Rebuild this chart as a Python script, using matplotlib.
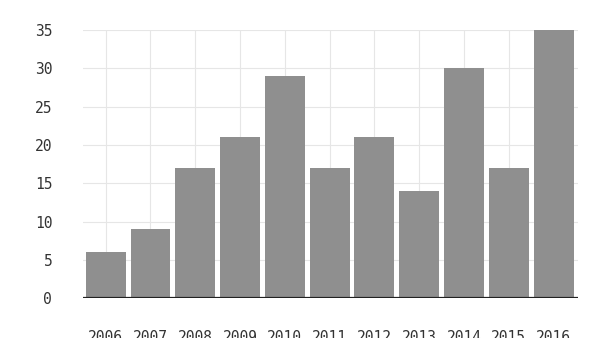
import matplotlib
matplotlib.use("Agg")
import matplotlib.pyplot as plt

years = ["2006", "2007", "2008", "2009", "2010", "2011", "2012", "2013", "2014", "2015", "2016"]
values = [6, 9, 17, 21, 29, 17, 21, 14, 30, 17, 35]
yticks = [0, 5, 10, 15, 20, 25, 30, 35]

fig = plt.figure(figsize=(6, 3.38), dpi=100)
ax = fig.add_axes([0.138, 0.118, 0.825, 0.793])
x = list(range(len(years)))
ax.bar(x, values, width=0.89, color="#8f8f8f", zorder=2)
ax.set_xlim(-0.51, len(years) - 0.46)
ax.set_ylim(0, 35)
ax.set_yticks(yticks)
ax.set_xticks(x)
ax.set_xticklabels(years)
for s in ax.spines.values():
    s.set_visible(False)
ax.axhline(0, color="#222222", lw=1.6, zorder=3)
ax.grid(True, color="#e6e6e6", lw=0.8, zorder=0)
ax.tick_params(length=0, labelsize=10.5, colors="#333333")
ax.tick_params(axis="x", pad=23)
ax.tick_params(axis="y", pad=22)
for lab in ax.get_xticklabels() + ax.get_yticklabels():
    lab.set_family("DejaVu Sans Mono")
fig.savefig("out.png", dpi=100)
